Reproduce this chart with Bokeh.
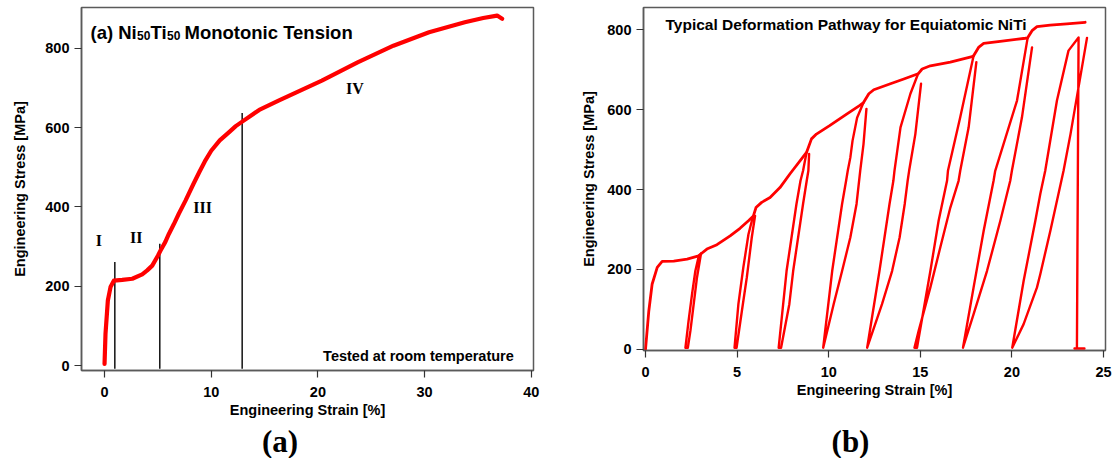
from bokeh.plotting import figure
from bokeh.models import Range1d, FixedTicker, Label
from bokeh.layouts import row, column
from bokeh.embed import file_html
from bokeh.resources import INLINE

# ---------------- (a) monotonic tension ----------------
mono_strain = [0.0, 0.09, 0.31, 0.56, 0.87, 1.66, 2.6, 3.53, 4.0, 4.47, 5.0, 5.25,
               5.7, 6.03, 6.5, 6.96, 7.59, 8.33, 8.9, 9.4, 10.0, 10.8, 11.68,
               12.3, 12.94, 14.5, 16.36, 20.37, 23.72, 27.08, 30.42,
               33.77, 35.5, 36.8, 37.27]
mono_stress = [4, 80, 164, 198, 214, 216, 219, 230, 240, 252, 277, 290,
               312, 332, 357, 383, 416, 458, 489, 515, 542, 568, 589,
               604, 616, 645, 669, 719, 765, 807, 841,
               866, 877, 883, 875]

# stage boundaries (strain, top of marker line)
bound_strain = [0.965, 5.18, 12.9]
bound_top = [261, 307, 637]
bound_bottom = -8

stage_names = ["I", "II", "III", "IV"]
stage_x = [-0.53, 2.97, 9.2, 23.46]
stage_y = [315, 322, 398, 700]

xticks_a = [0, 10, 20, 30, 40]
yticks = [0, 200, 400, 600, 800]

# ---------------- (b) loading / unloading pathway ----------------
env_strain = [0.0, 0.18, 0.36, 0.64, 0.91, 1.54, 2.27, 2.9, 3.0,
              3.35, 3.9, 4.62, 5.16, 5.62, 5.89,
              6.03, 6.34, 6.8, 7.34, 7.88, 8.79,
              9.06, 9.33, 10.05, 10.98, 11.7, 11.9,
              12.19, 12.46, 13.37, 14.1, 14.88,
              15.1, 15.55, 16.64, 17.83, 17.91,
              18.18, 18.46, 19.36, 20.73, 20.86,
              21.1, 21.37, 22.09, 23.0, 24.0]
env_stress = [0, 96, 163, 205, 220, 221, 226, 234, 238,
              251, 262, 284, 303, 322, 334,
              355, 368, 380, 405, 439, 493,
              527, 539, 560, 589, 611, 618,
              640, 650, 665, 677, 690,
              702, 710, 719, 733, 735,
              756, 766, 771, 779, 780,
              798, 808, 812, 815, 819]

# each cycle: unloading branch down to zero load, then reloading branch back up
cycle_strain = [
    [3.03, 2.81, 2.63, 2.45, 2.31, 2.18, 2.35, 2.54, 2.72, 2.91, 3.0],
    [5.98, 5.80, 5.53, 5.26, 4.97, 4.86, 5.07, 5.34, 5.62, 5.85, 5.89],
    [8.93, 8.89, 8.80, 8.60, 8.06, 7.85, 7.40, 7.27, 7.70, 8.24, 8.46, 8.60, 8.79],
    [12.06, 11.90, 11.72, 11.52, 11.18, 10.73, 10.27, 9.70,
     10.19, 10.73, 10.95, 11.04, 11.18, 11.30, 11.55, 11.9],
    [15.04, 14.73, 14.39, 14.31, 14.15, 13.87, 13.46, 12.91, 12.10,
     12.77, 13.32, 13.53, 13.59, 13.92, 14.46, 14.88],
    [18.06, 17.64, 17.18, 17.09, 16.64, 16.09, 15.55, 14.91, 14.68,
     14.82, 15.55, 16.00, 16.46, 16.51, 17.18, 17.91],
    [21.10, 20.55, 20.00, 19.91, 19.37, 18.64, 17.91, 17.33,
     17.91, 18.46, 19.00, 19.09, 20.28, 20.86],
    [24.10, 23.20, 22.82, 22.10, 21.55, 21.37, 20.64, 20.02,
     20.64, 21.28, 21.55, 21.82, 22.46, 23.09, 23.64, 23.55, 23.42, 23.96],
]
cycle_stress = [
    [240, 180, 113, 46, 4, 4, 71, 138, 196, 234, 238],
    [334, 280, 180, 96, 4, 4, 113, 205, 288, 330, 334],
    [489, 447, 422, 364, 196, 113, 4, 4, 196, 364, 422, 447, 493],
    [602, 514, 447, 364, 280, 196, 113, 4,
     196, 364, 422, 447, 480, 522, 580, 618],
    [665, 539, 447, 422, 364, 280, 196, 113, 4,
     196, 364, 422, 447, 556, 640, 690],
    [719, 556, 447, 422, 355, 255, 155, 46, 4,
     4, 196, 322, 422, 447, 581, 735],
    [756, 581, 447, 422, 322, 196, 88, 4,
     155, 297, 422, 447, 623, 780],
    [780, 539, 447, 297, 188, 155, 63, 4,
     171, 322, 389, 447, 623, 748, 781, 3, 2, 2],
]

xticks_b = [0, 5, 10, 15, 20, 25]

FONT = "Liberation Sans"
SERIF = "Liberation Serif"
FRAME = "#5a5a5a"
MAIN_H = 422
TAG_H = 36


def style(p, xticks, ylabel_standoff, xlabel_standoff):
    p.xgrid.visible = False
    p.ygrid.visible = False
    p.outline_line_color = FRAME
    p.outline_line_width = 1.5
    p.background_fill_color = "white"
    p.border_fill_color = "white"
    p.xaxis.ticker = FixedTicker(ticks=xticks)
    p.yaxis.ticker = FixedTicker(ticks=yticks)
    for ax in (p.xaxis[0], p.yaxis[0]):
        ax.axis_line_color = FRAME
        ax.axis_line_width = 1.5
        ax.major_tick_line_color = "#333333"
        ax.major_tick_line_width = 1.2
        ax.major_tick_out = 7
        ax.major_tick_in = 0
        ax.minor_tick_line_color = None
        ax.major_label_text_font = FONT
        ax.major_label_text_font_style = "bold"
        ax.major_label_text_font_size = "14.5px"
        ax.major_label_text_color = "black"
        ax.axis_label_text_font = FONT
        ax.axis_label_text_font_style = "bold"
        ax.axis_label_text_font_size = "14.5px"
        ax.axis_label_text_color = "black"
    p.xaxis.major_label_standoff = 9
    p.xaxis.axis_label_standoff = xlabel_standoff
    p.yaxis.major_label_standoff = 5
    p.yaxis.axis_label_standoff = ylabel_standoff
    p.xaxis.axis_label = "Engineering Strain [%]"
    p.yaxis.axis_label = "Engineering Stress [MPa]"


def tag_strip(text, width, cx):
    t = figure(width=width, height=TAG_H, output_backend="svg", toolbar_location=None,
               x_range=Range1d(0, 1), y_range=Range1d(0, 1), min_border=0,
               frame_align=False)
    t.axis.visible = False
    t.grid.visible = False
    t.outline_line_color = None
    t.border_fill_color = "white"
    t.add_layout(Label(x=cx, y=17.5, x_units="screen", y_units="screen", text=text,
                       text_font=SERIF, text_font_style="bold", text_font_size="31px",
                       text_color="black", text_align="center",
                       text_baseline="middle"))
    return t


# ---------- panel (a) ----------
pa = figure(width=560, height=MAIN_H, output_backend="svg", toolbar_location=None,
            x_range=Range1d(-2.16, 40.21), y_range=Range1d(-12.6, 903.4),
            min_border_left=81, min_border_right=27, min_border_top=7,
            min_border_bottom=MAIN_H - 370, frame_align=False)
style(pa, xticks_a, 14, 2)

pa.segment(x0=bound_strain, y0=[bound_bottom] * 3, x1=bound_strain, y1=bound_top,
           line_color="black", line_width=1.4)
pa.line(mono_strain, mono_stress, line_color="#ff0000", line_width=4.2,
        line_join="round", line_cap="round")

for name, sx, sy in zip(stage_names, stage_x, stage_y):
    pa.add_layout(Label(x=sx, y=sy, text=name, text_font=SERIF,
                        text_font_style="bold", text_font_size="16px",
                        text_color="black",
                        text_align="center", text_baseline="middle"))

title_bits = [("(a) Ni", 9, 338.5, "18.5px"), ("50", 55.5, 335, "12px"),
              ("Ti", 69, 338.5, "18.5px"), ("50", 85.5, 335, "12px"),
              ("Monotonic Tension", 103, 338.5, "18.5px")]
for txt, tx, ty, fs in title_bits:
    pa.add_layout(Label(x=tx, y=ty, x_units="screen", y_units="screen", text=txt,
                        text_font=FONT, text_font_style="bold", text_font_size=fs,
                        text_color="black", text_baseline="alphabetic"))

pa.add_layout(Label(x=432.3, y=15, x_units="screen", y_units="screen",
                    text="Tested at room temperature", text_font=FONT,
                    text_font_style="bold", text_font_size="14.5px",
                    text_color="black",
                    text_align="right", text_baseline="alphabetic"))

# ---------- panel (b) ----------
pb = figure(width=555, height=MAIN_H, output_backend="svg", toolbar_location=None,
            x_range=Range1d(-0.11, 25.11), y_range=Range1d(-3.0, 856),
            min_border_left=83, min_border_right=10, min_border_top=7,
            min_border_bottom=MAIN_H - 350, frame_align=False)
style(pb, xticks_b, 7, 2)

pb.line(env_strain, env_stress, line_color="#ff0000", line_width=2.8,
        line_join="round", line_cap="round")
pb.multi_line(cycle_strain, cycle_stress, line_color="#ff0000", line_width=2.4,
              line_join="round", line_cap="round")

pb.add_layout(Label(x=22, y=326.5, x_units="screen", y_units="screen",
                    text="Typical Deformation Pathway for Equiatomic NiTi",
                    text_font=FONT, text_font_style="bold", text_font_size="15.5px",
                    text_color="black", text_baseline="alphabetic"))

layout = column(row(pa, pb), row(tag_strip("(a)", 560, 279.5),
                                 tag_strip("(b)", 555, 290)))
open("out.html", "w").write(file_html(layout, INLINE))
